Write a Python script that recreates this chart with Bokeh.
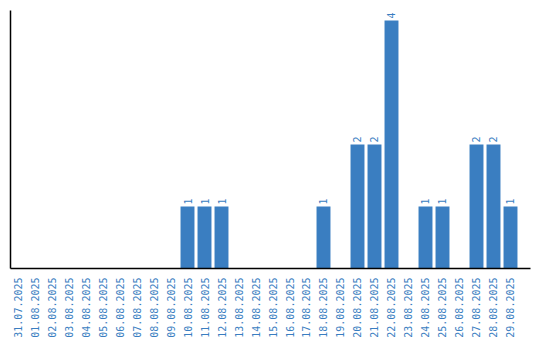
import math
from bokeh.plotting import figure
from bokeh.models import ColumnDataSource, Range1d, FixedTicker
from bokeh.core.properties import value
from bokeh.embed import file_html
from bokeh.resources import INLINE

dates = ["31.07.2025"] + ["%02d.08.2025" % d for d in range(1, 30)]
counts = [0, 0, 0, 0, 0, 0, 0, 0, 0, 0, 1, 1, 1, 0, 0, 0, 0, 0, 1, 0,
          2, 2, 4, 0, 1, 1, 0, 2, 2, 1]

BLUE = "#3a7ec1"
FONT = "DejaVu Sans Mono"

idx = list(range(len(dates)))
nz_idx = [i for i, c in zip(idx, counts) if c > 0]
nz_counts = [c for c in counts if c > 0]
src = ColumnDataSource(dict(x=nz_idx, top=nz_counts, lbl=[str(c) for c in nz_counts]))

p = figure(width=540, height=340,
           x_range=Range1d(-0.4118, 30.1765), y_range=Range1d(0, 4.16),
           output_backend="svg", toolbar_location=None,
           min_border_left=10, min_border_top=10, min_border_right=10, min_border_bottom=0)
p.outline_line_color = None
p.grid.visible = False

p.vbar(x="x", top="top", width=0.82, source=src, fill_color=BLUE, line_color=None)
p.text(x="x", y="top", text="lbl", source=src, angle=math.pi / 2, text_align="left",
       text_baseline="middle", x_offset=0, y_offset=-2, text_color=BLUE,
       text_font=value(FONT), text_font_size="10px")

xa = p.xaxis[0]
xa.ticker = FixedTicker(ticks=idx)
xa.major_label_overrides = {i: d for i, d in zip(idx, dates)}
xa.major_label_orientation = math.pi / 2
xa.major_label_text_font = FONT
xa.major_label_text_font_size = "10px"
xa.major_label_text_color = BLUE
xa.major_tick_line_color = None
xa.minor_tick_line_color = None
xa.axis_line_color = "black"
xa.axis_line_width = 1.5
xa.major_label_standoff = 3

ya = p.yaxis[0]
ya.major_label_text_font_size = "0px"
ya.major_tick_line_color = None
ya.minor_tick_line_color = None
ya.axis_line_color = "black"
ya.axis_line_width = 1.5
ya.major_label_standoff = 0
ya.ticker = FixedTicker(ticks=[])

open("out.html", "w").write(file_html(p, INLINE))
